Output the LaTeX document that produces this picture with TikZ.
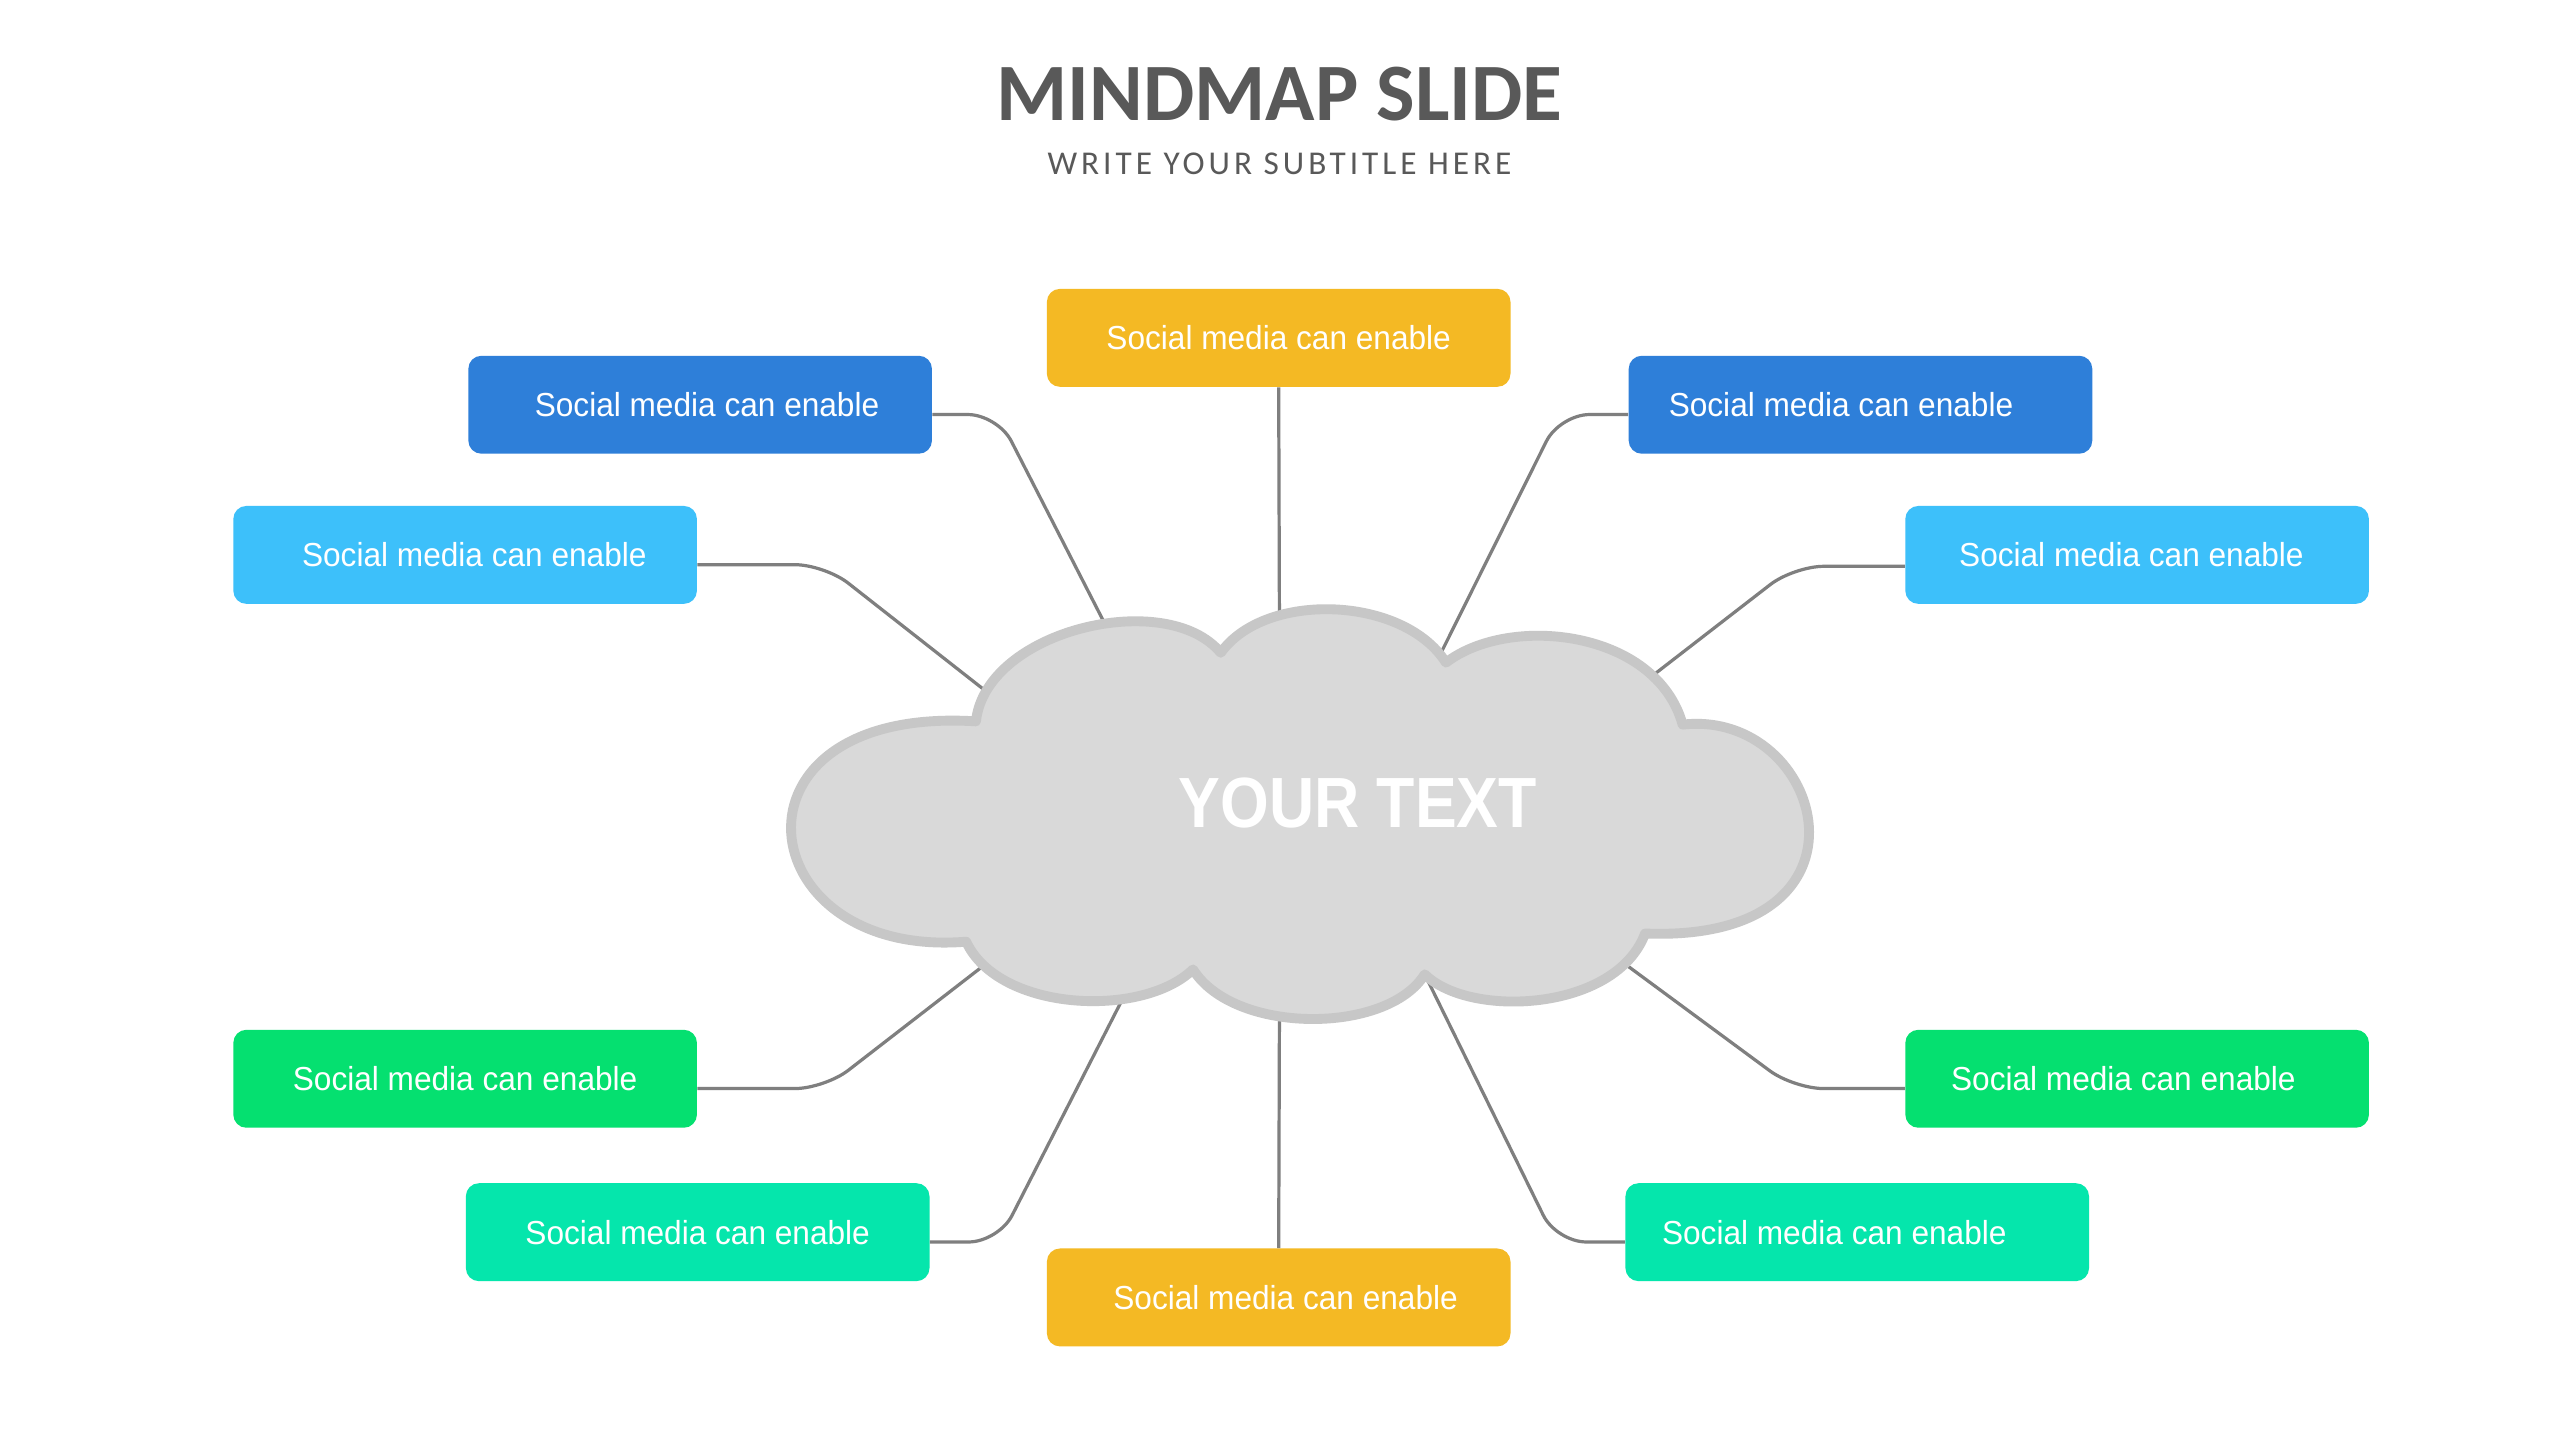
\documentclass[tikz,border=0pt]{standalone}
\usepackage{fontspec}
\setmainfont{Liberation Sans}
\newfontfamily\boxfont[FakeStretch=0.95]{Liberation Sans}
\newfontfamily\bigfont[FakeStretch=0.88]{Liberation Sans}
\newfontfamily\titlefont{Carlito}
\newfontfamily\subfont[LetterSpace=12]{Carlito}
\usetikzlibrary{calc}
\definecolor{cyellow}{RGB}{244,185,36}
\definecolor{cdblue}{RGB}{46,127,217}
\definecolor{clblue}{RGB}{61,192,250}
\definecolor{cgreen}{RGB}{5,224,112}
\definecolor{cteal}{RGB}{5,230,172}
\definecolor{cline}{RGB}{127,127,127}
\definecolor{cfill}{RGB}{217,217,217}
\definecolor{cedge}{RGB}{199,199,199}
\definecolor{ctitle}{RGB}{89,89,89}
\tikzset{
  box/.style={rounded corners=5.7pt, minimum width=7.1cm, minimum height=1.5cm,
    inner sep=0pt, text=white, font=\boxfont\fontsize{14.5}{17}\selectfont},
  conn/.style={draw=cline, line width=1.4pt, rounded corners=13pt},
}
\begin{document}
\begin{tikzpicture}[x=0.025cm,y=-0.025cm]
\useasboundingbox (0,0) rectangle (1568,882);
\fill[white] (0,0) rectangle (1568,882);

% title
\node[anchor=base, text=ctitle, font=\titlefont\bfseries\fontsize{35.5}{42}\selectfont] (title) at (784,74) {MINDMAP SLIDE};
\node[anchor=base, text=ctitle, font=\subfont\fontsize{14.5}{17}\selectfont] (subtitle) at (784,107) {WRITE YOUR SUBTITLE HERE};

% boxes
\node[box, fill=cyellow] (b1) at (783.5,207) {Social media can enable};
\node[box, fill=cdblue] (b2) at (429,248) {\hspace*{6pt}Social media can enable};
\node[box, fill=clblue] (b3) at (285,340) {\hspace*{8pt}Social media can enable};
\node[box, fill=cdblue] (b4) at (1140,248) {Social media can enable\hspace*{17pt}};
\node[box, fill=clblue] (b5) at (1309.5,340) {Social media can enable\hspace*{5pt}};
\node[box, fill=cgreen] (b6) at (285,661) {Social media can enable};
\node[box, fill=cteal] (b7) at (427.5,755) {Social media can enable};
\node[box, fill=cyellow] (b8) at (783.5,795) {\hspace*{6pt}Social media can enable};
\node[box, fill=cgreen] (b9) at (1309.5,661) {Social media can enable\hspace*{12pt}};
\node[box, fill=cteal] (b10) at (1138,755) {Social media can enable\hspace*{20pt}};

% cloud anchor points for connectors
\coordinate (c1) at (784,392);
\coordinate (c2) at (682,392);
\coordinate (c3) at (606,425);
\coordinate (c4) at (878,410);
\coordinate (c5) at (1010,416);
\coordinate (c6) at (610,586);
\coordinate (c7) at (693,602);
\coordinate (c8) at (784,610);
\coordinate (c9) at (988,585);
\coordinate (c10) at (872,595);

% connectors
\draw[conn] (b1.south) -- (c1);
\draw[conn] ($(b2.east)+(0,6)$) -- ++(40,0) -- (c2);
\draw[conn] ($(b3.east)+(0,6)$) -- ++(78,0) -- (c3);
\draw[conn] ($(b4.west)+(0,6)$) -- ++(-42,0) -- (c4);
\draw[conn] ($(b5.west)+(0,7)$) -- ++(-68,0) -- (c5);
\draw[conn] ($(b6.east)+(0,6)$) -- ++(78,0) -- (c6);
\draw[conn] ($(b7.east)+(0,6)$) -- ++(42,0) -- (c7);
\draw[conn] (b8.north) -- (c8);
\draw[conn] ($(b9.west)+(0,6)$) -- ++(-68,0) -- (c9);
\draw[conn] ($(b10.west)+(0,6)$) -- ++(-42,0) -- (c10);

% cloud
\draw[fill=cfill, draw=cedge, line width=4.3pt, line join=round]
  (598,442) .. controls (604,386) and (715,360) .. (748,400)
  .. controls (775,362) and (860,365) .. (886,406)
  .. controls (925,376) and (1015,386) .. (1031,444)
  .. controls (1118,434) and (1158,578) .. (1008,572)
  .. controls (990,620) and (900,624) .. (873,597)
  .. controls (850,634) and (756,634) .. (731,594)
  .. controls (700,624) and (612,620) .. (592,577)
  .. controls (458,588) and (438,432) .. cycle;

\node[text=white, font=\bigfont\bfseries\fontsize{31}{36}\selectfont] (center) at (832,492) {YOUR TEXT};
\end{tikzpicture}
\end{document}
